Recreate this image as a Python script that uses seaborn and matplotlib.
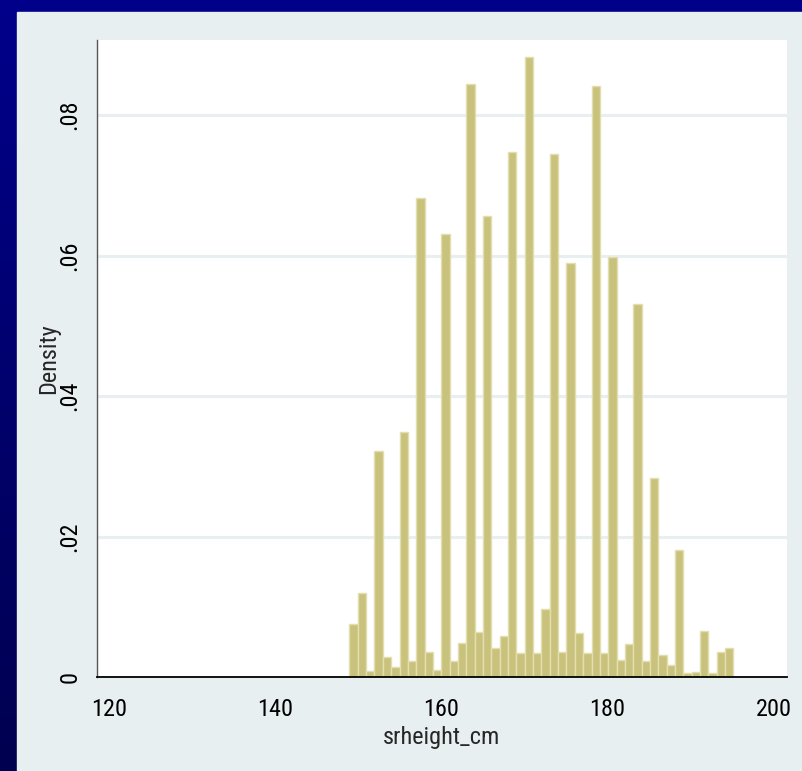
import matplotlib
matplotlib.use('Agg')
import matplotlib.pyplot as plt
from matplotlib import font_manager
from matplotlib.colors import LinearSegmentedColormap
from matplotlib.patches import Rectangle
import seaborn as sns
import numpy as np
import pandas as pd

# histogram of srheight_cm, densities
bin_start = 148.94
bin_width = 1.005
density = [0.0075, 0.0119, 0.00085, 0.0322, 0.0029, 0.00147, 0.0349, 0.00228,
           0.0682, 0.00356, 0.0010, 0.0631, 0.00228, 0.0048, 0.0845, 0.00645,
           0.0657, 0.0041, 0.0059, 0.0747, 0.00346, 0.0883, 0.00337, 0.0097,
           0.0745, 0.00356, 0.0589, 0.0063, 0.00337, 0.0841, 0.00337, 0.0598,
           0.00237, 0.0047, 0.0531, 0.00228, 0.0283, 0.0031, 0.00166, 0.0181,
           0.0006, 0.0007, 0.0066, 0.0006, 0.0036, 0.0041]
xticks = [120, 140, 160, 180, 200]
yticks = [0, 0.02, 0.04, 0.06, 0.08]
ytick_labels = ["0", ".02", ".04", ".06", ".08"]

edges = bin_start + bin_width * np.arange(len(density) + 1)
df = pd.DataFrame({'srheight_cm': (edges[:-1] + edges[1:]) / 2, 'dens': density})

sns.set_style("white")
names = {f.name for f in font_manager.fontManager.ttflist}
fam, fs = 'Liberation Sans', 16
for cand, size in [('Liberation Sans Narrow', 18.5), ('Roboto Condensed', 17.5)]:
    if cand in names:
        fam, fs = cand, size
        break
plt.rcParams['font.family'] = [fam, 'DejaVu Sans']

fig = plt.figure(figsize=(8.03, 7.71), dpi=100)
fig.patch.set_facecolor('#00008B')

# blue slide background with a soft vertical gradient
bg = fig.add_axes([0, 0, 1, 1], zorder=-10)
cmap = LinearSegmentedColormap.from_list('slide', ['#000050', '#00008B'])
bg.imshow(np.linspace(0, 1, 256).reshape(-1, 1), aspect='auto', cmap=cmap,
          origin='lower', extent=[0, 1, 0, 1])
bg.add_patch(Rectangle((17 / 803, 0), 1, (771 - 12) / 771, color='#E8EFF1'))
bg.set_xlim(0, 1)
bg.set_ylim(0, 1)
bg.axis('off')

ax = fig.add_axes([97 / 803, (771 - 677) / 771, (787 - 97) / 803, (677 - 40) / 771])
ax.set_facecolor('white')
for y in yticks[1:]:
    ax.axhline(y, color='#E8EFF1', lw=2.2, zorder=0)

sns.histplot(data=df, x='srheight_cm', weights='dens', bins=list(edges), stat='count',
             color='#C9C27D', alpha=1, edgecolor='#E3DEB0', linewidth=1.0, ax=ax, zorder=2)

ax.set_xlim(118.55, 201.62)
ax.set_ylim(0, 0.0907)
ax.set_xticks(xticks)
ax.set_xticklabels([str(t) for t in xticks])
ax.set_yticks(yticks)
ax.set_yticklabels(ytick_labels, rotation=90, va='center')
ax.tick_params(axis='both', direction='out', length=7, width=1, color='#333333',
               labelsize=fs, labelcolor='black')
ax.tick_params(axis='x', pad=8)
ax.tick_params(axis='y', pad=4)
ax.set_xlabel('srheight_cm', fontsize=fs, labelpad=4)
ax.set_ylabel('Density', fontsize=fs, labelpad=-1)

for s in ['top', 'right']:
    ax.spines[s].set_visible(False)
ax.spines['left'].set_color('#555555')
ax.spines['left'].set_linewidth(1.0)
ax.spines['bottom'].set_color('black')
ax.spines['bottom'].set_linewidth(1.3)
ax.spines['bottom'].set_zorder(3)

fig.savefig('out.png', dpi=100, facecolor=fig.get_facecolor())
